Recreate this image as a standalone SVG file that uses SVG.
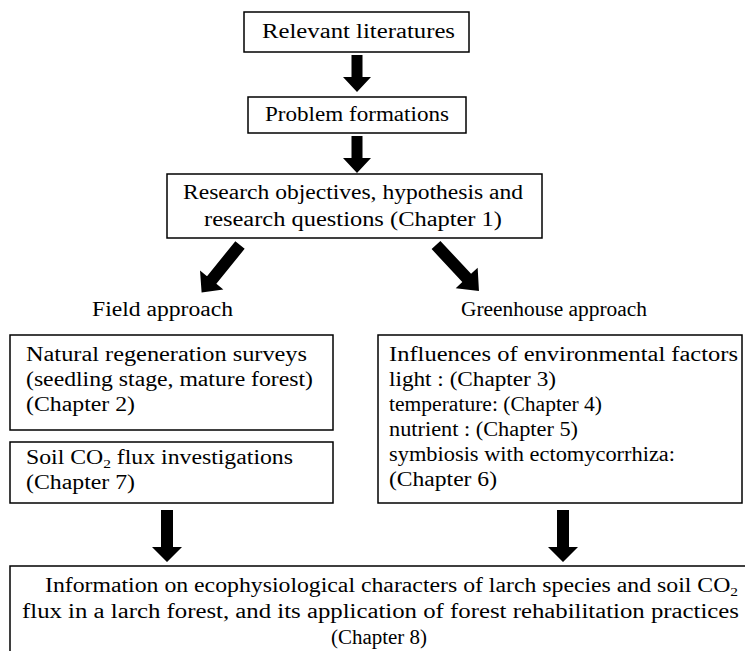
<svg xmlns="http://www.w3.org/2000/svg" width="745" height="651" viewBox="0 0 745 651">
<defs>
<style>
.box{fill:#fff;stroke:#000;stroke-width:1.5}
.t{font-family:"Liberation Serif","DejaVu Serif",serif;font-size:20px;fill:#000}
.m{text-anchor:middle}
.sub{font-size:13px}
.arr{fill:#000}
</style>
<polygon id="down" points="-5.5,0 5.5,0 5.5,22 14,22 0,37 -14,22 -5.5,22"/>
</defs>
<rect width="745" height="651" fill="#fff"/>
<g id="connectors" class="arr">
<use href="#down" x="357" y="55"/>
<use href="#down" x="357" y="136"/>
<g transform="translate(240,245) rotate(39)"><polygon points="-6,0 6,0 6,45 15,45 0,61 -15,45 -6,45"/></g>
<g transform="translate(436,245) rotate(-43)"><polygon points="-6,0 6,0 6,45 15,45 0,63 -15,45 -6,45"/></g>
<g transform="translate(167,510)"><polygon points="-6,0 6,0 6,37 15,37 0,52 -15,37 -6,37"/></g>
<g transform="translate(563,510)"><polygon points="-6,0 6,0 6,37 15,37 0,52 -15,37 -6,37"/></g>
</g>
<g id="n1">
<rect class="box" x="244" y="12" width="225" height="40"/>
<text class="t" x="262" y="38" textLength="193" lengthAdjust="spacingAndGlyphs">Relevant literatures</text>
</g>
<g id="n2">
<rect class="box" x="248" y="97" width="218" height="36"/>
<text class="t" x="265" y="121" textLength="184" lengthAdjust="spacingAndGlyphs">Problem formations</text>
</g>
<g id="n3">
<rect class="box" x="167" y="174" width="375" height="64"/>
<text class="t" x="183" y="199" textLength="340" lengthAdjust="spacingAndGlyphs">Research objectives, hypothesis and</text>
<text class="t" x="204" y="226" textLength="298" lengthAdjust="spacingAndGlyphs">research questions (Chapter 1)</text>
</g>
<g id="field-label">
<text class="t" x="92" y="316" textLength="141" lengthAdjust="spacingAndGlyphs">Field approach</text>
</g>
<g id="greenhouse-label">
<text class="t" x="461" y="316" textLength="186" lengthAdjust="spacingAndGlyphs">Greenhouse approach</text>
</g>
<g id="n4">
<rect class="box" x="10" y="335" width="323" height="95"/>
<text class="t" x="26" y="361" textLength="281" lengthAdjust="spacingAndGlyphs">Natural regeneration surveys</text>
<text class="t" x="26" y="386" textLength="287" lengthAdjust="spacingAndGlyphs">(seedling stage, mature forest)</text>
<text class="t" x="26" y="411" textLength="109" lengthAdjust="spacingAndGlyphs">(Chapter 2)</text>
</g>
<g id="n5">
<rect class="box" x="10" y="442" width="323" height="61"/>
<text class="t" x="26" y="464" textLength="267" lengthAdjust="spacingAndGlyphs">Soil CO<tspan class="sub" dy="4">2</tspan><tspan dy="-4"> flux  investigations</tspan></text>
<text class="t" x="26" y="489" textLength="109" lengthAdjust="spacingAndGlyphs">(Chapter 7)</text>
</g>
<g id="n6">
<rect class="box" x="378" y="335" width="364" height="168"/>
<text class="t" x="389" y="361" textLength="349" lengthAdjust="spacingAndGlyphs">Influences of environmental factors</text>
<text class="t" x="389" y="386" textLength="167" lengthAdjust="spacingAndGlyphs">light : (Chapter 3)</text>
<text class="t" x="389" y="411" textLength="213" lengthAdjust="spacingAndGlyphs">temperature: (Chapter 4)</text>
<text class="t" x="389" y="436" textLength="189" lengthAdjust="spacingAndGlyphs">nutrient : (Chapter 5)</text>
<text class="t" x="389" y="461" textLength="286" lengthAdjust="spacingAndGlyphs">symbiosis with ectomycorrhiza:</text>
<text class="t" x="389" y="486" textLength="108" lengthAdjust="spacingAndGlyphs">(Chapter 6)</text>
</g>
<g id="n7">
<rect class="box" x="10" y="566" width="745" height="100"/>
<text class="t" x="45" y="592" textLength="693" lengthAdjust="spacingAndGlyphs">Information on ecophysiological characters of larch species and soil CO<tspan class="sub" dy="4">2</tspan></text>
<text class="t" x="22" y="618" textLength="717" lengthAdjust="spacingAndGlyphs">flux in a larch forest, and its application of forest rehabilitation practices</text>
<text class="t" x="331" y="644" textLength="96" lengthAdjust="spacingAndGlyphs">(Chapter 8)</text>
</g>
</svg>
